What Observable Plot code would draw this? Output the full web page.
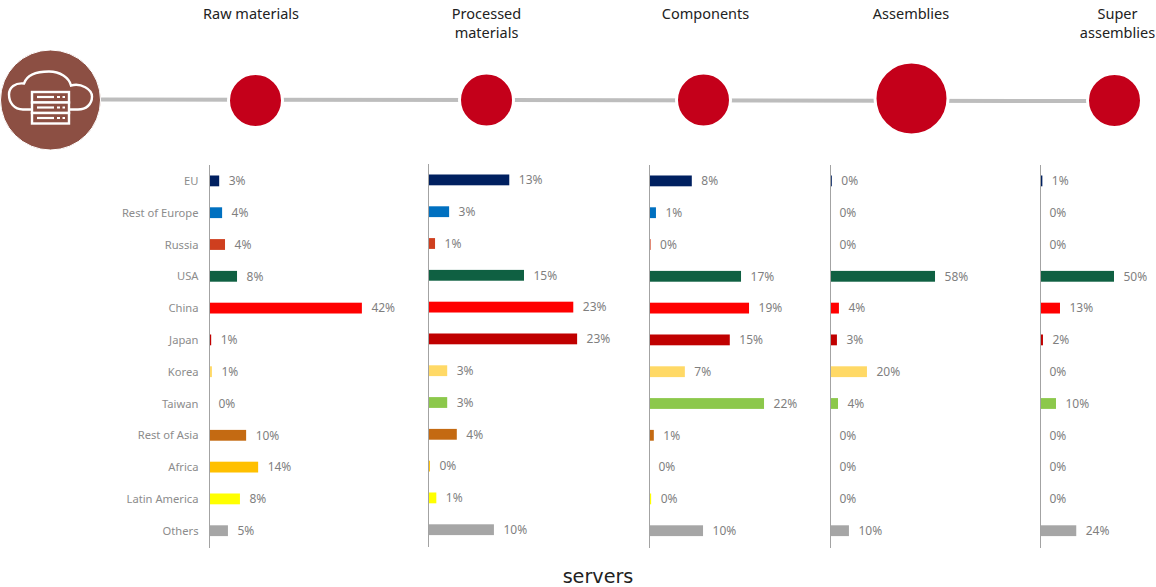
<!DOCTYPE html>
<html>
<head>
<meta charset="utf-8">
<style>
  html, body { margin: 0; padding: 0; background: #fff; }
  #chart { position: relative; width: 1156px; height: 587px; overflow: hidden; }
  #chart svg { position: absolute; overflow: visible; background: transparent; }
  #caption { position: absolute; left: 0; width: 1196px; top: 564px; text-align: center;
    font: 19.2px "DejaVu Sans", sans-serif; color: #222; line-height: 26px; }
</style>
<script src="https://cdn.jsdelivr.net/npm/d3@7"></script>
<script src="https://cdn.jsdelivr.net/npm/@observablehq/plot@0.6"></script>
</head>
<body>
<div id="chart"><div id="caption">servers</div></div>
<script>
const regions = ["EU","Rest of Europe","Russia","USA","China","Japan","Korea","Taiwan","Rest of Asia","Africa","Latin America","Others"];
const regionColors = ["#002060","#0070c0","#cf3f1f","#0f6042","#ff0000","#c00000","#ffd966","#8cc84b","#c46a12","#ffc000","#ffff00","#a6a6a6"];

const stageNames = ["Raw materials","Processed\nmaterials","Components","Assemblies","Super\nassemblies"];
const stageTitleX = [250.5,486,705,910.5,1117];
const stageX = [255,486,703,911,1114];
const stageY = [100,99.5,99.5,98,100];
const stageR = [27,27,27,36.5,27];

const rawValues = [2.8,3.6,4.4,7.7,42,0.6,0.8,0,10.2,13.5,8.5,5.2];
const rawLabels = ["3%","4%","4%","8%","42%","1%","1%","0%","10%","14%","8%","5%"];
const processedValues = [12.7,3.3,1.1,15,22.7,23.3,3,3,4.5,0.3,1.3,10.3];
const processedLabels = ["13%","3%","1%","15%","23%","23%","3%","3%","4%","0%","1%","10%"];
const componentValues = [8,1.3,0.3,17.2,18.7,15.1,6.7,21.5,0.9,0,0.4,10.1];
const componentLabels = ["8%","1%","0%","17%","19%","15%","7%","22%","1%","0%","0%","10%"];
const assemblyValues = [1,0,0,57.7,4.9,3.8,20.3,4.4,0,0,0,10.4];
const assemblyLabels = ["0%","0%","0%","58%","4%","3%","20%","4%","0%","0%","0%","10%"];
const superValues = [1.6,0,0,50,13.5,2,0,10.8,0,0,0,24.5];
const superLabels = ["1%","0%","0%","50%","13%","2%","0%","10%","0%","0%","0%","24%"];

const panels = [
  {values: rawValues, labels: rawLabels, left: 209, ppp: 3.64, top: 164.7, axis: true},
  {values: processedValues, labels: processedLabels, left: 428, ppp: 6.4, top: 164},
  {values: componentValues, labels: componentLabels, left: 649, ppp: 5.35, top: 164.7},
  {values: assemblyValues, labels: assemblyLabels, left: 830, ppp: 1.82, top: 165.3},
  {values: superValues, labels: superLabels, left: 1040, ppp: 1.48, top: 164.7}
];

const FONT = "'Noto Sans', sans-serif";
const chart = document.getElementById("chart");

// Pipeline strip
const lineX = [101,1092];
const lineY = [99,100.5];
const hubX = [50], hubY = [99.5], hubR = [50];

function cloudIcon(index, {x, y}) {
  const g = d3.create("svg:g")
    .attr("transform", `translate(${x(50)},${y(99.5)})`)
    .attr("fill", "none").attr("stroke", "#fff").attr("stroke-width", 2.4);
  g.append("path").attr("d",
    "M-18,10 H-27 C-36,10 -41,3 -41,-5 C-41,-12 -35,-17 -26,-16 C-23,-25 -12,-28 -1,-28 C10,-28 19,-22 21,-14 C31,-17 42,-10 42,-3 C42,5 36,10 28,10 H19");
  for (const dy of [-7.5,3,13.5]) {
    const r = g.append("g").attr("transform", `translate(0,${dy})`);
    r.append("rect").attr("x",-18).attr("y",0).attr("width",37).attr("height",10.5).attr("fill","#8c4f43");
    r.append("path").attr("d","M-13,5 H4").attr("stroke-width",2.2);
    r.append("path").attr("d","M7,5 H10 M12.5,5 H15").attr("stroke-width",2.2);
  }
  return g.node();
}

const strip = Plot.plot({
  width: 1156, height: 160,
  margin: 0,
  x: {domain: [0,1156], range: [0,1156], axis: null},
  y: {domain: [0,160], range: [0,160], axis: null},
  r: {type: "identity"},
  style: {background: "transparent", fontFamily: FONT},
  marks: [
    Plot.line(lineX.map((d,i)=>({x:d,y:lineY[i]})), {x:"x", y:"y", stroke:"#bdbdbd", strokeWidth:4, curve:"linear"}),
    Plot.dot(stageX.map((d,i)=>({x:d,y:stageY[i],r:stageR[i]})), {x:"x", y:"y", r:"r", fill:"#c4001a", stroke:"#fff", strokeWidth:3}),
    Plot.dot(hubX.map((d,i)=>({x:d,y:hubY[i],r:hubR[i]})), {x:"x", y:"y", r:"r", fill:"#8c4f43", stroke:"#fff", strokeWidth:1}),
    cloudIcon,
    Plot.text(stageNames.map((d,i)=>({t:d,x:stageTitleX[i]})), {x:"x", y:()=>5, text:"t", lineAnchor:"top", lineHeight:1.32, fontSize:14.5, fill:"#222", textAnchor:"middle"})
  ]
});
chart.appendChild(strip);

panels.forEach(p => {
  const rows = regions.map((r,i)=>({region:r, value:p.values[i], label:p.labels[i]}));
  const plot = Plot.plot({
    width: Math.min(p.left + 300, 1156),
    height: 383,
    marginTop: 0, marginBottom: 0, marginRight: 0,
    marginLeft: p.left,
    x: {domain: [0,100], range: [p.left, p.left + 100*p.ppp], axis: null},
    y: {domain: regions, range: [0,381.6], round: false, paddingInner: 0.66, paddingOuter: 0.33, axis: null},
    color: {domain: regions, range: regionColors},
    style: {background: "transparent", fontFamily: FONT},
    marks: [
      ...(p.axis ? [Plot.axisY({anchor:"left", tickSize:0, tickPadding:11, label:null, fontSize:11.2, color:"#8c8c8c"})] : []),
      Plot.barX(rows, {x:"value", y:"region", fill:"region"}),
      Plot.ruleX([0], {stroke:"#a3a3a3", strokeWidth:1}),
      Plot.text(rows, {x:"value", y:"region", text:"label", dx:9, textAnchor:"start", fontSize:12, fill:"#7f7f7f"})
    ]
  });
  plot.style.left = "0px";
  plot.style.top = p.top + "px";
  chart.appendChild(plot);
});
</script>
</body>
</html>
